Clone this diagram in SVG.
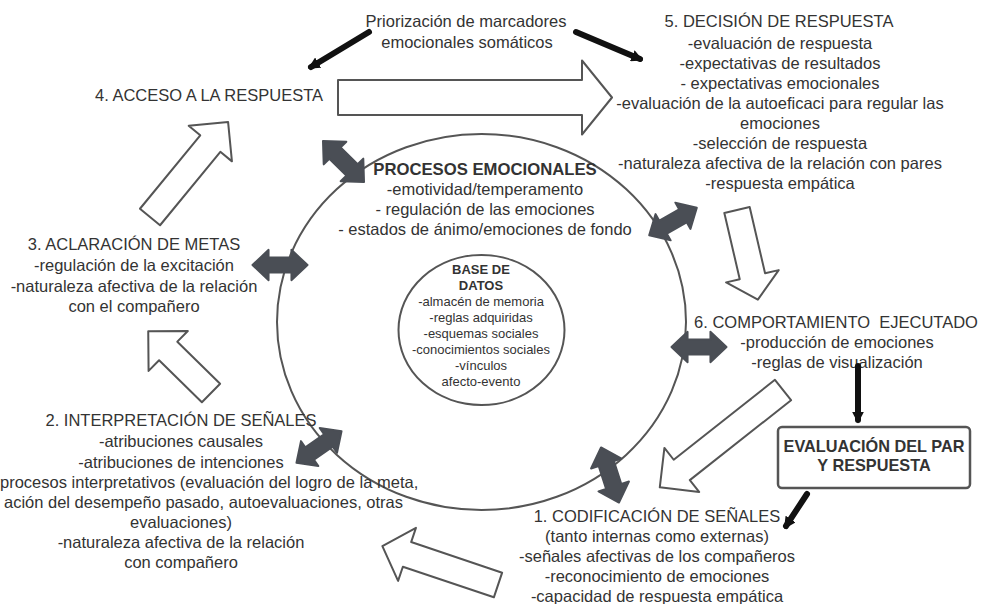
<svg xmlns="http://www.w3.org/2000/svg" xmlns:xlink="http://www.w3.org/1999/xlink" width="982" height="604" viewBox="0 0 982 604">
<style>
  text { font-family: "Liberation Sans", Arial, sans-serif; fill: #333; text-anchor: middle; }
  .t { font-size: 16.5px; }
  .b { font-weight: bold; }
  .s { font-size: 13px; }
  .hollow { fill: #fff; stroke: #555; stroke-width: 2; stroke-linejoin: round; }
  .dbl { fill: #4a4e55; stroke: #4a4e55; stroke-width: 2; stroke-linejoin: round; }
  .blk { stroke: #111; stroke-width: 6; stroke-linecap: round; fill: none; marker-end: url(#bh); }
  .ring { fill: none; stroke: #555; stroke-width: 2; }
</style>
<defs>
  <marker id="bh" viewBox="0 0 10 10" refX="7" refY="5" markerWidth="2" markerHeight="2" orient="auto">
    <path d="M0,0 L10,5 L0,10 z" fill="#111"/>
  </marker>
  <path id="dblshape" d="M-29,0 L-12,-16 V-8 H12 V-16 L29,0 L12,16 V8 H-12 V16 Z"/>
</defs>
<rect width="982" height="604" fill="#fff"/>

<g id="circles">
  <ellipse class="ring" cx="481.5" cy="322" rx="204.5" ry="188"/>
  <ellipse class="ring" cx="481.5" cy="330" rx="83" ry="75"/>
</g>

<g id="procesos">
  <text class="t b" x="485" y="175" style="font-size:16.7px">PROCESOS EMOCIONALES</text>
  <text class="t" x="485" y="195">-emotividad/temperamento</text>
  <text class="t" x="485" y="215">- regulación de las emociones</text>
  <text class="t" x="485" y="235">- estados de ánimo/emociones de fondo</text>
</g>

<g id="base-datos">
  <text class="s b" x="481" y="274">BASE DE</text>
  <text class="s b" x="481" y="290">DATOS</text>
  <text class="s" x="481" y="306">-almacén de memoria</text>
  <text class="s" x="481" y="322">-reglas adquiridas</text>
  <text class="s" x="481" y="338">-esquemas sociales</text>
  <text class="s" x="481" y="354">-conocimientos sociales</text>
  <text class="s" x="481" y="370">-vínculos</text>
  <text class="s" x="481" y="386">afecto-evento</text>
</g>

<g id="priorizacion">
  <text class="t" x="466" y="27">Priorización de marcadores</text>
  <text class="t" x="467" y="48">emocionales somáticos</text>
</g>

<g id="decision">
  <text class="t" x="779" y="27">5. DECISIÓN DE RESPUESTA</text>
  <text class="t" x="780" y="49">-evaluación de respuesta</text>
  <text class="t" x="780" y="69">-expectativas de resultados</text>
  <text class="t" x="780" y="89">- expectativas emocionales</text>
  <text class="t" x="780" y="109">-evaluación de la autoeficaci para regular las</text>
  <text class="t" x="780" y="129">emociones</text>
  <text class="t" x="780" y="149">-selección de respuesta</text>
  <text class="t" x="780" y="169">-naturaleza afectiva de la relación con pares</text>
  <text class="t" x="780" y="189">-respuesta empática</text>
</g>

<g id="acceso">
  <text class="t" x="209" y="101">4. ACCESO A LA RESPUESTA</text>
</g>

<g id="aclaracion">
  <text class="t" x="134" y="250">3. ACLARACIÓN DE METAS</text>
  <text class="t" x="134" y="271">-regulación de la excitación</text>
  <text class="t" x="134" y="291.5">-naturaleza afectiva de la relación</text>
  <text class="t" x="134" y="312">con el compañero</text>
</g>

<g id="interpretacion">
  <text class="t" x="181" y="426">2. INTERPRETACIÓN DE SEÑALES</text>
  <text class="t" x="181" y="447">-atribuciones causales</text>
  <text class="t" x="181" y="468">-atribuciones de intenciones</text>
  <text class="t" x="0" y="488" style="text-anchor:start">procesos interpretativos (evaluación del logro de la meta,</text>
  <text class="t" x="403" y="508" style="text-anchor:end">ación del desempeño pasado, autoevaluaciones, otras</text>
  <text class="t" x="181" y="528">evaluaciones)</text>
  <text class="t" x="181" y="548">-naturaleza afectiva de la relación</text>
  <text class="t" x="181" y="568">con compañero</text>
</g>

<g id="codificacion">
  <text class="t" x="657" y="522">1. CODIFICACIÓN DE SEÑALES</text>
  <text class="t" x="657" y="542">(tanto internas como externas)</text>
  <text class="t" x="657" y="562">-señales afectivas de los compañeros</text>
  <text class="t" x="657" y="582">-reconocimiento de emociones</text>
  <text class="t" x="657" y="602">-capacidad de respuesta empática</text>
</g>

<g id="comportamiento">
  <text class="t" x="836" y="328" style="white-space:pre">6. COMPORTAMIENTO  EJECUTADO</text>
  <text class="t" x="837" y="348">-producción de emociones</text>
  <text class="t" x="837" y="368">-reglas de visualización</text>
</g>

<g id="evaluacion-par">
  <rect x="778" y="427" width="192" height="61" rx="4" fill="#fff" stroke="#555" stroke-width="2.5"/>
  <text class="t b" x="874" y="452" style="font-size:16.3px">EVALUACIÓN DEL PAR</text>
  <text class="t b" x="874" y="471" style="font-size:16.3px">Y RESPUESTA</text>
</g>

<g id="connectors">
  <path class="hollow" transform="translate(338,97.5)" d="M0,-17.5 H244 V-37 L274,0 L244,37 V17.5 H0 Z"/>
  <path class="hollow" transform="translate(150,217) rotate(-50.6)" d="M0,-13 H95 V-28 L123,0 L95,28 V13 H0 Z"/>
  <path class="hollow" transform="translate(737,210) rotate(76.9)" d="M0,-13 H68 V-27 L92,0 L68,27 V13 H0 Z"/>
  <path class="hollow" transform="translate(783,390) rotate(141.7)" d="M0,-13 H129 V-28 L157,0 L129,28 V13 H0 Z"/>
  <path class="hollow" transform="translate(498,585) rotate(198.6)" d="M0,-13 H96 V-28 L122,0 L96,28 V13 H0 Z"/>
  <path class="hollow" transform="translate(211,393) rotate(224.5)" d="M0,-13 H60 V-28 L88,0 L60,28 V13 H0 Z"/>

  <use xlink:href="#dblshape" class="dbl" transform="translate(343.5,161.5) rotate(45)"/>
  <use xlink:href="#dblshape" class="dbl" transform="translate(280,265) scale(0.95)"/>
  <use xlink:href="#dblshape" class="dbl" transform="translate(673,221.5) rotate(-30) scale(0.95)"/>
  <use xlink:href="#dblshape" class="dbl" transform="translate(699,347) scale(0.95)"/>
  <use xlink:href="#dblshape" class="dbl" transform="translate(610,475) rotate(72)"/>
  <use xlink:href="#dblshape" class="dbl" transform="translate(319,447) rotate(-35) scale(0.95)"/>

  <line class="blk" x1="369" y1="32" x2="311" y2="67"/>
  <line class="blk" x1="576" y1="32" x2="640" y2="59"/>
  <line class="blk" x1="858" y1="366" x2="858" y2="420"/>
  <line class="blk" x1="807" y1="494" x2="786" y2="526"/>
</g>
</svg>
